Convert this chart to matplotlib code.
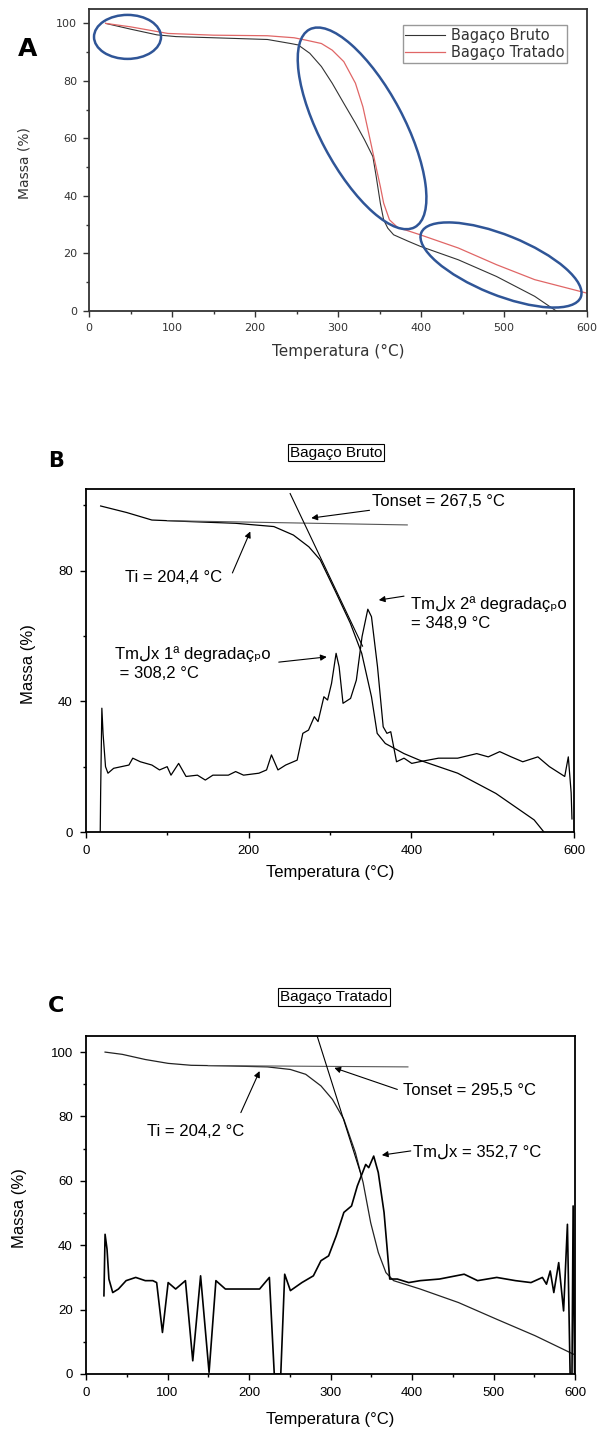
import matplotlib
matplotlib.use("Agg")
import matplotlib.pyplot as plt
from matplotlib.patches import Ellipse
from matplotlib.transforms import IdentityTransform
from matplotlib.ticker import MultipleLocator

# ---- dados ----
# A: TGA comparativa
a_bruto_t = [20, 50, 82, 105, 150, 215, 243, 252, 266, 280, 293, 307, 321, 332, 342, 346, 351, 355, 360, 367, 385,
             399, 445, 491, 537, 563]
a_bruto_m = [100, 98, 96, 95.4, 95, 94.4, 93, 92.5, 89.6, 85, 79.2, 72.2, 65.3, 59.5, 53.7, 46.8, 37.5, 31.7, 28.8,
             26.5, 24.2, 22.5, 17.8, 12, 5.1, 0]
a_trat_t = [20, 50, 95, 150, 215, 247, 261, 280, 293, 307, 321, 330, 337, 344, 351, 355, 362, 372, 381, 399, 445,
            491, 537, 600]
a_trat_m = [100, 98.8, 96.5, 95.9, 95.7, 95, 94.2, 93, 90.7, 86.7, 79.2, 71, 61.8, 52.5, 43.3, 37.5, 31.7, 29,
            28.2, 26.5, 21.9, 16.1, 10.9, 6.2]

# B: Bagaço Bruto
b_tga_t = [18, 50, 81, 130, 184, 231, 255, 274, 288, 306, 325, 339, 351, 358, 368, 391, 410, 457, 504, 551, 563]
b_tga_m = [99.8, 97.8, 95.5, 95.0, 94.5, 93.5, 90.9, 87.3, 83.3, 74, 63.9, 54.7, 41.4, 30.2, 27.1, 24, 22, 18, 11.8, 3.7, 0]
b_dtg_t = [17.5, 18, 19.5, 21, 24, 27, 34, 52.8, 57.5, 66.8, 81, 90.4, 99.8, 104.5, 113.9, 123, 137, 146.7, 156, 175,
           184, 193.7, 212.6, 222, 228, 236, 245.5, 259.6, 266.6, 273.6, 280.7, 285.3, 292.5, 297, 301.9, 307.5, 311.2,
           316, 325.3, 332.4, 339.4, 346.5, 351, 358.4, 365.4, 370, 374.7, 381.8, 391, 400.5, 409.9, 433.4, 457, 480.4,
           494.6, 508.7, 522.8, 537, 555.6, 569.8, 588.6, 593, 596.5, 597.5]
b_dtg_m = [0, 12, 37.9, 30, 20, 18, 19.5, 20.5, 22.6, 21.5, 20.5, 19, 20, 17.4, 21, 17, 17.4, 15.9, 17.4, 17.4,
           18.5, 17.4, 18, 19, 23.6, 19, 20.5, 22, 30.2, 31.2, 35.3, 33.8, 41.4, 40.4, 45.5, 54.7, 50.6,
           39.4, 40.9, 46.5, 59.8, 68.2, 65.9, 50.6, 32.2, 30.2, 30.7, 21.5, 22.6, 21, 21.5, 22.6, 22.6, 24,
           23, 24.6, 23, 21.5, 23, 20, 17, 23, 12, 4]
b_base_t = [100, 395]
b_base_m = [95.3, 94.0]
b_tan_t = [251, 340]
b_tan_m = [103.6, 56.9]

# C: Bagaço Tratado
c_tga_t = [23.4, 44.5, 72.7, 100.8, 129, 175.8, 222.7, 250.8, 269.6, 288.3, 302.4, 316.4, 330.5, 340, 349.3, 358.7,
           368, 377.4, 410, 457, 504, 551, 597.7, 600]
c_tga_m = [100, 99.3, 97.7, 96.5, 95.9, 95.7, 95.4, 94.6, 93.1, 89.5, 85.3, 79.1, 68.8, 59.5, 47, 37.7,
           31.5, 29, 26.4, 22.2, 17, 11.9, 6.2, 6]
c_dtg_t = [22, 23.4, 25.8, 28.1, 32.8, 39.8, 49.2, 61, 72.7, 82, 86.7, 93.8, 100.8, 110, 122, 131, 140.6, 151, 159.4,
           171, 194.6, 213, 225, 231, 239, 243.8, 250.8, 264.9, 279, 288.3, 297.7, 307, 316.4, 325.8, 332.9, 343.2,
           346.9, 353, 358.6, 365.7, 372.7, 382, 396, 410, 433.7, 464, 480.5, 504, 527, 546, 560, 565, 569.6, 574,
           580, 586, 590.7, 594, 596.3, 597.7, 599.5]
c_dtg_m = [24.3, 43.4, 38.8, 29.5, 25.3, 26.4, 29, 30, 29, 29, 28.4, 12.9, 28.4, 26.4, 29, 4.1, 30.5, 0.5, 29,
           26.4, 26.4, 26.4, 30, 0, 0, 31, 25.9, 28.4, 30.5, 35.2, 36.7, 42.9, 50.2, 52.2, 58.4, 65.1,
           64.1, 67.7, 62.6, 50.2, 29.5, 29.5, 28.4, 29, 29.5, 31, 29, 30, 29, 28.4, 30, 27.9, 32, 25.3,
           34.6, 19.6, 46.5, 0, 0, 52.2, 0]
c_base_t = [150, 395]
c_base_m = [95.8, 95.4]
c_tan_t = [283.6, 338]
c_tan_m = [105, 61.5]

W, H = 599, 1432
fig = plt.figure(figsize=(W / 100, H / 100), dpi=100)

def box(l, t, r, b):
    # pixel box -> fraction
    return [l / W, 1 - b / H, (r - l) / W, (b - t) / H]

arial = ['Liberation Sans', 'DejaVu Sans']

# ================= A =================
axA = fig.add_axes(box(89, 9, 587, 311))
axA.plot(a_bruto_t, a_bruto_m, color='#333333', lw=0.8, label='Bagaço Bruto')
axA.plot(a_trat_t, a_trat_m, color='#e06666', lw=0.9, label='Bagaço Tratado')
axA.set_xlim(0, 600)
axA.set_ylim(0, 105)
axA.xaxis.set_major_locator(MultipleLocator(100))
axA.xaxis.set_minor_locator(MultipleLocator(50))
axA.yaxis.set_major_locator(MultipleLocator(20))
axA.yaxis.set_minor_locator(MultipleLocator(10))
axA.tick_params(which='major', length=4.5, width=1, labelsize=8, colors='#333333', pad=4)
axA.tick_params(which='minor', length=2.5, width=1, colors='#333333')
for s in axA.spines.values():
    s.set_linewidth(1.3)
    s.set_color('#333333')
axA.set_xlabel('Temperatura (°C)', fontsize=11, color='#333333')
axA.set_ylabel('Massa (%)', fontsize=10, color='#333333')
axA.xaxis.set_label_coords(0.5, -0.108)
axA.yaxis.set_label_coords(-0.115, 0.49)
leg = axA.legend(loc='upper right', bbox_to_anchor=(0.96, 0.947), borderaxespad=0, fontsize=10.5,
                 fancybox=False, edgecolor='#999999', handlelength=2.7, handletextpad=0.4,
                 labelspacing=0.15, borderpad=0.2, framealpha=1)
leg.get_frame().set_linewidth(1)
for t in leg.get_texts():
    t.set_color('#333333')

fig.canvas.draw()
ellipses = [  # centro (dados), largura, altura (px), ângulo
    ((46.4, 95.3), 67, 44, 0),
    ((329, 63.5), 224, 84, -62),
    ((496.4, 16), 172, 60, -22),
]
for (cx, cy), w, h, ang in ellipses:
    px, py = axA.transData.transform((cx, cy))
    e = Ellipse((px, py), w, h, angle=ang, transform=IdentityTransform(), fill=False,
                edgecolor='#2f5597', lw=1.8, clip_on=False)
    fig.add_artist(e)

fig.text(28 / W, 1 - 49 / H, 'A', fontsize=18, fontweight='bold', ha='center', va='center')

# ================= B =================
axB = fig.add_axes(box(86, 489, 574, 832))
axB.plot(b_tga_t, b_tga_m, color='black', lw=0.9)
axB.plot(b_dtg_t, b_dtg_m, color='black', lw=0.9)
axB.plot(b_base_t, b_base_m, color='#555555', lw=0.8)
axB.plot(b_tan_t, b_tan_m, color='black', lw=0.8)
axB.set_xlim(0, 600)
axB.set_ylim(0, 105)
axB.xaxis.set_major_locator(MultipleLocator(200))
axB.xaxis.set_minor_locator(MultipleLocator(100))
axB.yaxis.set_major_locator(MultipleLocator(40))
axB.yaxis.set_minor_locator(MultipleLocator(20))

fig.text(56 / W, 1 - 460.5 / H, 'B', fontsize=15, fontweight='bold', ha='center', va='center')
fig.text(336 / W, 1 - 452.5 / H, 'Bagaço Bruto', fontsize=11, family=arial, ha='center', va='center',
         bbox=dict(boxstyle='square,pad=0.12', fc='white', ec='black', lw=0.8))

arr = dict(arrowstyle='-|>', color='black', lw=0.8, mutation_scale=9, shrinkA=0, shrinkB=0)
axB.annotate('Tonset = 267,5 °C', xy=(277, 96.1), xytext=(352, 101.3), fontsize=12, family=arial,
             va='center', ha='left', arrowprops=arr)
axB.annotate('Ti = 204,4 °C', xy=(202, 92), xytext=(48, 78), fontsize=12, family=arial,
             va='center', ha='left')
axB.annotate('', xy=(202, 92), xytext=(180, 79.3), arrowprops=arr)
axB.annotate('Tmلx 2ª degradaçₚo\n= 348,9 °C', xy=(360, 71), xytext=(400, 72.2), fontsize=12,
             family=arial, va='top', ha='left', linespacing=1.35)
axB.annotate('', xy=(360, 71), xytext=(391, 72.2), arrowprops=arr)
axB.annotate('Tmلx 1ª degradaçₚo\n = 308,2 °C', xy=(296, 53.6), xytext=(35.6, 57), fontsize=12,
             family=arial, va='top', ha='left', linespacing=1.35)
axB.annotate('', xy=(296, 53.6), xytext=(237, 52), arrowprops=arr)

# ================= C =================
axC = fig.add_axes(box(86, 1036, 575, 1374))
axC.plot(c_tga_t, c_tga_m, color='#222222', lw=0.9)
axC.plot(c_dtg_t, c_dtg_m, color='black', lw=1.2)
axC.plot(c_base_t, c_base_m, color='#555555', lw=0.8)
axC.plot(c_tan_t, c_tan_m, color='black', lw=0.8)
axC.set_xlim(0, 600)
axC.set_ylim(0, 105)
axC.xaxis.set_major_locator(MultipleLocator(100))
axC.xaxis.set_minor_locator(MultipleLocator(50))
axC.yaxis.set_major_locator(MultipleLocator(20))
axC.yaxis.set_minor_locator(MultipleLocator(10))

fig.text(56 / W, 1 - 1006.5 / H, 'C', fontsize=16, fontweight='bold', ha='center', va='center')
fig.text(334 / W, 1 - 997 / H, 'Bagaço Tratado', fontsize=11, family=arial, ha='center', va='center',
         bbox=dict(boxstyle='square,pad=0.12', fc='white', ec='black', lw=0.8))

axC.annotate('Tonset = 295,5 °C', xy=(304.7, 95.1), xytext=(389, 88.1), fontsize=12, family=arial,
             va='center', ha='left')
axC.annotate('', xy=(304.7, 95.1), xytext=(382, 88.4), arrowprops=arr)
axC.annotate('Ti = 204,2 °C', xy=(213, 94.1), xytext=(75, 75.2), fontsize=12, family=arial,
             va='center', ha='left')
axC.annotate('', xy=(213, 94.1), xytext=(190, 81.2), arrowprops=arr)
axC.annotate('Tmلx = 352,7 °C', xy=(363, 68), xytext=(400.8, 69), fontsize=12, family=arial,
             va='center', ha='left')
axC.annotate('', xy=(363, 68), xytext=(398.5, 69.3), arrowprops=arr)

for ax, ylx in ((axB, -0.1025), (axC, -0.12)):
    ax.tick_params(which='major', length=4.5, width=1, labelsize=9.5, pad=5)
    ax.tick_params(which='minor', length=2.5, width=1)
    for lab in ax.get_xticklabels() + ax.get_yticklabels():
        lab.set_family(arial)
    for s in ax.spines.values():
        s.set_linewidth(1.3)
    ax.set_xlabel('Temperatura (°C)', fontsize=12, family=arial)
    ax.set_ylabel('Massa (%)', fontsize=12, family=arial)
    ax.yaxis.set_label_coords(ylx, 0.49)
axB.xaxis.set_label_coords(0.5, -0.096)
axC.xaxis.set_label_coords(0.5, -0.112)

fig.savefig('out.png', dpi=100)
